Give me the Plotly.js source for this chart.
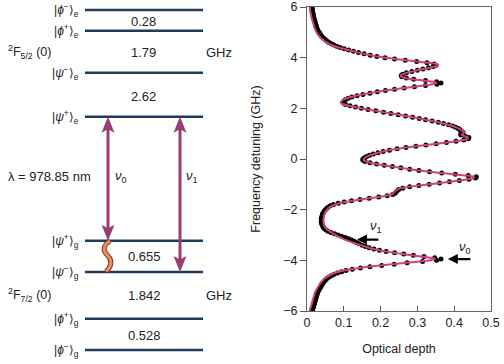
<!DOCTYPE html>
<html><head><meta charset="utf-8">
<script src="https://cdn.plot.ly/plotly-3.0.1.min.js"></script>
<style>html,body{margin:0;padding:0;background:#fff}#chart{width:504px;height:364px}</style>
</head><body><div id="chart"></div>
<script>
// ---------- data ----------
const frequencyGHz = [
6,5.95,5.9,5.85,5.8,5.75,5.7,5.65,5.6,5.55,5.5,5.45,5.4,5.35,5.3,5.25,5.2,5.15,5.1,5.05,
5,4.95,4.9,4.85,4.8,4.75,4.7,4.65,4.6,4.55,4.5,4.45,4.4,4.35,4.3,4.25,4.2,4.15,4.1,4.05,
4,3.95,3.9,3.85,3.8,3.75,3.7,3.65,3.6,3.55,3.5,3.45,3.4,3.35,3.3,3.25,3.2,3.15,3.1,3.05,
3,2.95,2.9,2.85,2.8,2.75,2.7,2.65,2.6,2.55,2.5,2.45,2.4,2.35,2.3,2.25,2.2,2.15,2.1,2.05,
2,1.95,1.9,1.85,1.8,1.75,1.7,1.65,1.6,1.55,1.5,1.45,1.4,1.35,1.3,1.25,1.2,1.15,1.1,1.05,
1,0.95,0.9,0.85,0.8,0.75,0.7,0.65,0.6,0.55,0.5,0.45,0.4,0.35,0.3,0.25,0.2,0.15,0.1,0.05,
0,-0.05,-0.1,-0.15,-0.2,-0.25,-0.3,-0.35,-0.4,-0.45,-0.5,-0.55,-0.6,-0.65,-0.7,-0.75,-0.8,-0.85,-0.9,-0.95,
-1,-1.05,-1.1,-1.15,-1.2,-1.25,-1.3,-1.35,-1.4,-1.45,-1.5,-1.55,-1.6,-1.65,-1.7,-1.75,-1.8,-1.85,-1.9,-1.95,
-2,-2.05,-2.1,-2.15,-2.2,-2.25,-2.3,-2.35,-2.4,-2.45,-2.5,-2.55,-2.6,-2.65,-2.7,-2.75,-2.8,-2.85,-2.9,-2.95,
-3,-3.05,-3.1,-3.15,-3.2,-3.25,-3.3,-3.35,-3.4,-3.45,-3.5,-3.55,-3.6,-3.65,-3.7,-3.75,-3.8,-3.85,-3.9,-3.95,
-4,-4.05,-4.1,-4.15,-4.2,-4.25,-4.3,-4.35,-4.4,-4.45,-4.5,-4.55,-4.6,-4.65,-4.7,-4.75,-4.8,-4.85,-4.9,-4.95,
-5,-5.05,-5.1,-5.15,-5.2,-5.25,-5.3,-5.35,-5.4,-5.45,-5.5,-5.55,-5.6,-5.65,-5.7,-5.75,-5.8,-5.85,-5.9,-5.95,
-6];
const opticalDepthMeasured = [
0.013,0.014,0.014,0.015,0.015,0.016,0.017,0.017,0.018,0.019,0.020,0.021,0.022,0.023,0.024,0.025,0.026,0.027,0.029,0.030,
0.033,0.035,0.037,0.040,0.043,0.047,0.051,0.055,0.060,0.066,0.073,0.081,0.090,0.101,0.113,0.126,0.140,0.155,0.172,0.190,
0.212,0.238,0.267,0.298,0.326,0.345,0.350,0.343,0.330,0.315,0.300,0.285,0.270,0.260,0.256,0.258,0.270,0.290,0.322,0.352,
0.364,0.353,0.322,0.292,0.264,0.238,0.213,0.191,0.171,0.152,0.136,0.122,0.112,0.105,0.101,0.100,0.100,0.105,0.117,0.132,
0.148,0.166,0.187,0.208,0.228,0.248,0.268,0.287,0.305,0.322,0.340,0.357,0.371,0.385,0.396,0.404,0.411,0.416,0.420,0.424,
0.418,0.418,0.430,0.440,0.438,0.426,0.405,0.379,0.351,0.323,0.296,0.269,0.245,0.224,0.207,0.193,0.180,0.170,0.162,0.156,
0.152,0.152,0.158,0.171,0.189,0.210,0.232,0.255,0.279,0.304,0.333,0.366,0.403,0.438,0.460,0.458,0.440,0.414,0.387,0.360,
0.332,0.304,0.279,0.260,0.249,0.245,0.242,0.239,0.233,0.218,0.195,0.169,0.144,0.121,0.101,0.085,0.072,0.063,0.057,0.053,
0.050,0.047,0.045,0.043,0.042,0.041,0.040,0.039,0.039,0.039,0.039,0.040,0.041,0.043,0.045,0.048,0.052,0.057,0.065,0.075,
0.084,0.094,0.104,0.113,0.121,0.128,0.135,0.142,0.150,0.159,0.169,0.182,0.197,0.215,0.238,0.263,0.289,0.318,0.347,0.364,
0.352,0.314,0.272,0.237,0.203,0.171,0.145,0.123,0.106,0.094,0.083,0.074,0.067,0.061,0.056,0.052,0.049,0.046,0.043,0.041,
0.039,0.037,0.035,0.033,0.031,0.029,0.028,0.027,0.026,0.025,0.024,0.023,0.022,0.021,0.020,0.019,0.018,0.017,0.016,0.015,
0.014];
const opticalDepthFit = [
0.007,0.008,0.008,0.009,0.009,0.010,0.011,0.011,0.012,0.013,0.014,0.015,0.016,0.017,0.018,0.019,0.020,0.021,0.023,0.024,
0.026,0.028,0.030,0.033,0.036,0.040,0.044,0.048,0.053,0.060,0.067,0.076,0.087,0.099,0.112,0.126,0.140,0.155,0.172,0.190,
0.212,0.238,0.268,0.300,0.330,0.352,0.357,0.348,0.332,0.316,0.300,0.285,0.270,0.260,0.255,0.256,0.267,0.285,0.315,0.342,
0.352,0.340,0.316,0.290,0.262,0.237,0.212,0.190,0.170,0.150,0.133,0.119,0.108,0.100,0.095,0.092,0.093,0.100,0.114,0.130,
0.147,0.166,0.187,0.208,0.228,0.248,0.268,0.287,0.305,0.322,0.340,0.357,0.371,0.385,0.396,0.405,0.413,0.419,0.424,0.427,
0.424,0.420,0.428,0.437,0.436,0.425,0.404,0.378,0.350,0.322,0.295,0.268,0.245,0.224,0.207,0.193,0.181,0.171,0.164,0.158,
0.154,0.154,0.160,0.172,0.190,0.210,0.232,0.255,0.278,0.302,0.330,0.362,0.398,0.432,0.453,0.452,0.436,0.412,0.386,0.360,
0.332,0.303,0.276,0.255,0.245,0.240,0.237,0.234,0.229,0.215,0.193,0.168,0.144,0.122,0.103,0.087,0.076,0.068,0.062,0.058,
0.055,0.052,0.050,0.048,0.047,0.046,0.046,0.045,0.045,0.045,0.045,0.045,0.046,0.048,0.050,0.053,0.057,0.061,0.066,0.072,
0.078,0.084,0.091,0.098,0.106,0.115,0.125,0.135,0.145,0.156,0.168,0.181,0.196,0.214,0.236,0.260,0.285,0.312,0.337,0.348,
0.335,0.305,0.268,0.234,0.200,0.168,0.141,0.118,0.100,0.087,0.076,0.067,0.060,0.054,0.049,0.045,0.042,0.039,0.036,0.034,
0.032,0.030,0.028,0.026,0.024,0.022,0.021,0.020,0.019,0.018,0.017,0.016,0.015,0.014,0.013,0.012,0.011,0.010,0.009,0.008,
0.007];
const xTickVals = [0, 0.1, 0.2, 0.3, 0.4, 0.5];
const yTickVals = [-6, -4, -2, 0, 2, 4, 6];
const excitedStates = ['ϕ<sup>−</sup>', 'ϕ<sup>+</sup>', 'ψ<sup>−</sup>', 'ψ<sup>+</sup>'];
const groundStates = ['ψ<sup>+</sup>', 'ψ<sup>−</sup>', 'ϕ<sup>+</sup>', 'ϕ<sup>−</sup>'];
const excitedSplittings = ['0.28', '1.79', '2.62'];
const groundSplittings = ['0.655', '1.842', '0.528'];
const wavelengthLabel = 'λ = 978.85 nm';
const transitions = ['ν<sub>0</sub>', 'ν<sub>1</sub>'];
const transitionDetuning = [-3.95, -3.18];   // GHz, where the arrows on the spectrum point

// ---------- diagram geometry (pixel overlay axes) ----------
const FONT = 'Liberation Sans, Arial, Helvetica, sans-serif';
const INK = '#222';
const LEVEL = '#1f3b5b';
const ARROW = '#9b3d72';
const excitedY = [10, 30.7, 72.7, 116.7];
const groundY = [240.7, 272, 318.7, 350];
const levelX = [85, 203];

const shapes = [];
const ann = [];
function txt(x, y, text, opts) {
  ann.push(Object.assign({xref:'x2', yref:'y2', x, y, text, showarrow:false,
    font:{family:FONT, size:13, color:INK}, xanchor:'center', yanchor:'middle'}, opts||{}));
}
const ketFont = {family:FONT, size:12, color:INK};
excitedY.forEach((y,i)=>{
  shapes.push({type:'line', xref:'x2', yref:'y2', x0:levelX[0], x1:levelX[1], y0:y, y1:y, line:{color:LEVEL, width:2.6}});
  txt(81, y, '|<i>'+excitedStates[i].replace('<sup>','</i><sup>')+'⟩<sub>e</sub>', {xanchor:'right', font:ketFont});
});
groundY.forEach((y,i)=>{
  shapes.push({type:'line', xref:'x2', yref:'y2', x0:levelX[0], x1:levelX[1], y0:y, y1:y, line:{color:LEVEL, width:2.6}});
  txt(81, y, '|<i>'+groundStates[i].replace('<sup>','</i><sup>')+'⟩<sub>g</sub>', {xanchor:'right', font:ketFont});
});
[21.7, 52, 96.7].forEach((y,i)=>txt(143, y, excitedSplittings[i]));
[256, 295, 335].forEach((y,i)=>txt(144, y, groundSplittings[i]));
txt(6, 52, '<sup>2</sup>F<sub>5/2</sub> (0)', {xanchor:'left', font:{family:FONT, size:12.5, color:INK}});
txt(6, 295, '<sup>2</sup>F<sub>7/2</sub> (0)', {xanchor:'left', font:{family:FONT, size:12.5, color:INK}});
txt(219, 52, 'GHz');
txt(219, 295, 'GHz');
txt(49, 176, wavelengthLabel);
txt(121, 176, '<i>'+transitions[0].replace('<sub>','</i><sub>'));
txt(192, 176, '<i>'+transitions[1].replace('<sub>','</i><sub>'));

function dblArrow(x, yTop, yBot) {
  shapes.push({type:'line', xref:'x2', yref:'y2', x0:x, x1:x, y0:yTop+12, y1:yBot-12, line:{color:ARROW, width:3}});
  shapes.push({type:'path', xref:'x2', yref:'y2', fillcolor:ARROW, line:{width:0},
    path:`M${x},${yTop} L${x+6.5},${yTop+16} L${x},${yTop+12.5} L${x-6.5},${yTop+16} Z`});
  shapes.push({type:'path', xref:'x2', yref:'y2', fillcolor:ARROW, line:{width:0},
    path:`M${x},${yBot} L${x+6.5},${yBot-16} L${x},${yBot-12.5} L${x-6.5},${yBot-16} Z`});
}
dblArrow(108, excitedY[3], groundY[0]);
dblArrow(180, excitedY[3], groundY[1]);
const squiggle = 'M110,241 C102,246 103,251 108,256 C113,261 111,267 106,271.5';
shapes.push({type:'path', xref:'x2', yref:'y2', path:squiggle, fillcolor:'rgba(0,0,0,0)', line:{color:'#7a3a22', width:5}});
shapes.push({type:'path', xref:'x2', yref:'y2', path:squiggle, fillcolor:'rgba(0,0,0,0)', line:{color:'#f28a5c', width:3}});

// arrows on spectrum
ann.push({xref:'x', yref:'y', axref:'x', ayref:'y', x:0.136, y:transitionDetuning[1], ax:0.198, ay:transitionDetuning[1],
  text:'', showarrow:true, arrowhead:2, arrowsize:0.9, arrowwidth:2.2, arrowcolor:'#000', standoff:0, startstandoff:0});
ann.push({xref:'x', yref:'y', axref:'x', ayref:'y', x:0.383, y:transitionDetuning[0], ax:0.448, ay:transitionDetuning[0],
  text:'', showarrow:true, arrowhead:2, arrowsize:0.9, arrowwidth:2.2, arrowcolor:'#000', standoff:0, startstandoff:0});
ann.push({xref:'x', yref:'y', x:0.1875, y:-2.68, text:'<i>ν</i><sub>1</sub>', showarrow:false, font:{family:FONT,size:13,color:INK}});
ann.push({xref:'x', yref:'y', x:0.429, y:-3.51, text:'<i>ν</i><sub>0</sub>', showarrow:false, font:{family:FONT,size:13,color:INK}});

const traces = [
  {x: opticalDepthMeasured, y: frequencyGHz, mode:'markers', type:'scatter',
   marker:{color:'#000', size:5}, hoverinfo:'skip', showlegend:false, cliponaxis:true},
  {x: opticalDepthFit, y: frequencyGHz, mode:'lines', type:'scatter',
   line:{color:'#d4407e', width:2, shape:'spline', smoothing:0.5}, hoverinfo:'skip', showlegend:false},
  {x: [], y: [], xaxis:'x2', yaxis:'y2', mode:'markers', hoverinfo:'skip', showlegend:false}
];

const W = 504, H = 364;
const layout = {
  width: W, height: H, margin:{l:0, r:0, t:0, b:0},
  paper_bgcolor:'#fff', plot_bgcolor:'rgba(0,0,0,0)', showlegend:false, hovermode:false,
  font:{family:FONT, size:12, color:INK},
  xaxis:{domain:[307/W, 491/W], range:[0, 0.5], tickvals:xTickVals, ticks:'inside', ticklen:5, tickwidth:1, tickcolor:'#555',
    showline:true, linecolor:'#666', linewidth:1, mirror:true, showgrid:false, zeroline:false, anchor:'y',
    tickfont:{family:FONT, size:12.5, color:INK}, title:{text:'Optical depth', font:{family:FONT, size:12.5, color:INK}, standoff:15}},
  yaxis:{domain:[1-311/H, 1-7/H], range:[-6, 6], tickvals:yTickVals, ticks:'outside', ticklen:6, tickwidth:1, tickcolor:'#555',
    showline:true, linecolor:'#666', linewidth:1, mirror:true, showgrid:false, zeroline:false, anchor:'x',
    tickfont:{family:FONT, size:12.5, color:INK}, title:{text:'Frequency detuning (GHz)', font:{family:FONT, size:12.5, color:INK}, standoff:19}},
  xaxis2:{domain:[0,1], range:[0, W], visible:false, anchor:'y2', fixedrange:true},
  yaxis2:{domain:[0,1], range:[H, 0], visible:false, anchor:'x2', fixedrange:true},
  shapes: shapes, annotations: ann
};
Plotly.newPlot('chart', traces, layout, {staticPlot:true, displayModeBar:false});
</script></body></html>
